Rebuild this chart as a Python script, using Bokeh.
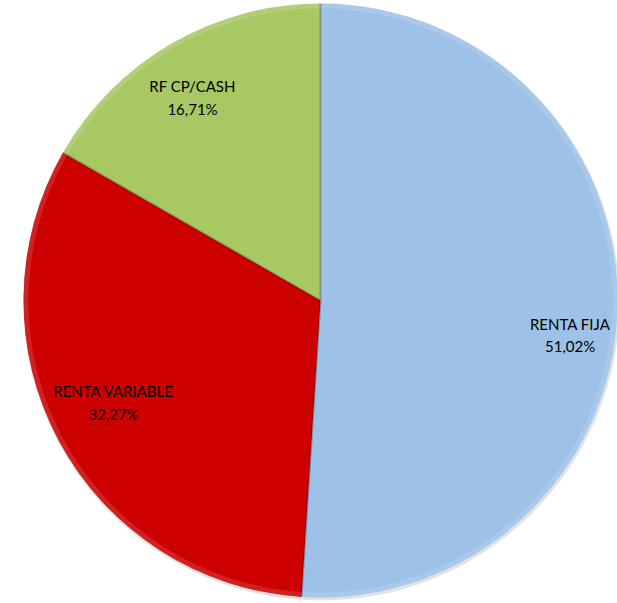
import numpy as np
from bokeh.plotting import figure
from bokeh.models import ColumnDataSource, Range1d
from bokeh.core.properties import value
from bokeh.embed import file_html
from bokeh.resources import INLINE

categories = ["RENTA FIJA", "RENTA VARIABLE", "RF CP/CASH"]
shares = [51.02, 32.27, 16.71]
pct_labels = ["51,02%", "32,27%", "16,71%"]
colors = ["#9EC1E7", "#CC0000", "#A8C864"]

W, H = 617, 603
cx, cy, R = 320, 303, 297

frac = np.array(shares) / sum(shares)
cum = np.concatenate([[0], np.cumsum(frac)])
start = np.pi / 2 - cum[:-1] * 2 * np.pi
end = np.pi / 2 - cum[1:] * 2 * np.pi
mid = (start + end) / 2

# label placement (style)
lab_r = [252, 230.5, 240]
lab_da = np.radians([-6.0, -2.1, 2.15])
lx = cx + np.array(lab_r) * np.cos(mid + lab_da)
ly = cy + np.array(lab_r) * np.sin(mid + lab_da)

src = ColumnDataSource(dict(cat=categories, pct=pct_labels, color=colors,
                            start=start, end=end,
                            lx=lx, ly1=ly + 11, ly2=ly - 11.5))

p = figure(width=W, height=H, output_backend="svg", toolbar_location=None,
           x_range=Range1d(0, W), y_range=Range1d(0, H), min_border=0)
p.axis.visible = False
p.grid.visible = False
p.outline_line_color = None

# subtle shadow rim
p.circle(x=[cx + 1], y=[cy - 2], radius=R + 1, fill_color="#CFCFCF", line_color=None, fill_alpha=0.6)

p.wedge(x=cx, y=cy, radius=R, start_angle="start", end_angle="end",
        direction="clock", fill_color="color", line_color=None, source=src)

# bevel-like lighter rim
p.annular_wedge(x=cx, y=cy, inner_radius=R - 5, outer_radius=R, start_angle="start",
                end_angle="end", direction="clock", fill_color="white", fill_alpha=0.12,
                line_color=None, source=src)
# darker edges along slice boundaries
p.segment(x0=cx, y0=cy, x1=cx + R * np.cos(start), y1=cy + R * np.sin(start),
          line_color="#000000", line_alpha=0.25, line_width=2)

p.text(x="lx", y="ly1", text="cat", source=src, text_align="center",
       text_baseline="middle", text_font=value("Lato"), text_font_size="15px",
       text_color="#000000")
p.text(x="lx", y="ly2", text="pct", source=src, text_align="center",
       text_baseline="middle", text_font=value("Lato"), text_font_size="15px",
       text_color="#000000")

open("out.html", "w").write(file_html(p, INLINE))
